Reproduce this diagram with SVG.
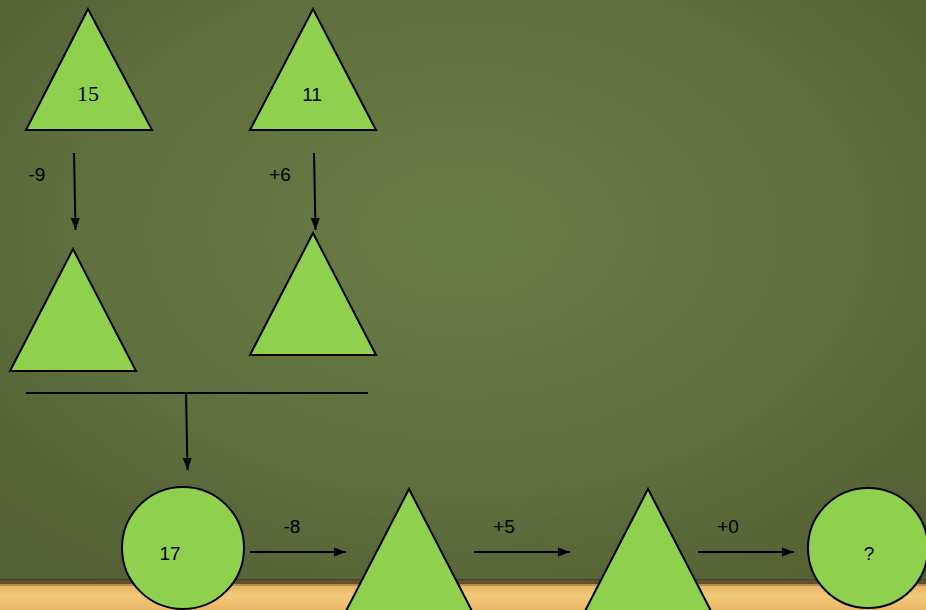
<svg xmlns="http://www.w3.org/2000/svg" width="926" height="610" viewBox="0 0 926 610">
<defs>
<radialGradient id="board" cx="0.5" cy="0.38" r="0.7">
<stop offset="0" stop-color="#6a7c46"/>
<stop offset="0.6" stop-color="#5f6f3d"/>
<stop offset="1" stop-color="#535f34"/>
</radialGradient>
<linearGradient id="wood" x1="0" y1="0" x2="0" y2="1">
<stop offset="0" stop-color="#e0a755"/>
<stop offset="0.5" stop-color="#f2c879"/>
<stop offset="1" stop-color="#eab867"/>
</linearGradient>
<marker id="ah" viewBox="0 0 12 10" refX="12" refY="5" markerWidth="12" markerHeight="10" markerUnits="userSpaceOnUse" orient="auto">
<path d="M0,0.5 L12,5 L0,9.5 Z" fill="#000"/>
</marker>
<style>
.shape{fill:#8fd14f;stroke:#000;stroke-width:2}
.lbl{font-family:"Liberation Sans",Arial,sans-serif;font-size:19px;fill:#000;text-anchor:middle}
.serif{font-family:"Liberation Serif","Times New Roman",serif;font-size:22px}
.conn{stroke:#000;stroke-width:2;fill:none}
</style>
</defs>
<rect x="0" y="0" width="926" height="610" fill="url(#board)"/>
<rect x="0" y="580" width="926" height="30" fill="url(#wood)"/>
<rect x="0" y="579" width="926" height="5" fill="#3b3c22" opacity="0.8"/>
<rect x="0" y="584" width="926" height="2" fill="#8a6a30" opacity="0.5"/>
<g id="n1"><polygon class="shape" points="88,9 152,130 26,130"/><text class="lbl serif" x="88" y="101">15</text></g>
<g id="n2"><polygon class="shape" points="313,9 376,130 250,130"/><text class="lbl" x="312" y="101">11</text></g>
<g id="n3"><polygon class="shape" points="73,249 136,371 10,371"/></g>
<g id="n4"><polygon class="shape" points="313,233 376,355 250,355"/></g>
<g id="n5"><circle class="shape" cx="183" cy="548" r="61"/><text class="lbl" x="170" y="560">17</text></g>
<g id="n6"><polygon class="shape" points="409,489 472,611 346,611"/></g>
<g id="n7"><polygon class="shape" points="648,489 711,611 585,611"/></g>
<g id="n8"><circle class="shape" cx="868" cy="548" r="60"/><text class="lbl" x="869" y="560">?</text></g>
<g id="connectors">
<line class="conn" x1="74" y1="153" x2="75.5" y2="230" marker-end="url(#ah)"/>
<line class="conn" x1="314" y1="153" x2="315.5" y2="230" marker-end="url(#ah)"/>
<line class="conn" x1="26" y1="393" x2="368" y2="393"/>
<line class="conn" x1="186" y1="393" x2="187.5" y2="470" marker-end="url(#ah)"/>
<line class="conn" x1="250" y1="552" x2="346" y2="552" marker-end="url(#ah)"/>
<line class="conn" x1="474" y1="552" x2="570" y2="552" marker-end="url(#ah)"/>
<line class="conn" x1="698" y1="552" x2="794" y2="552" marker-end="url(#ah)"/>
<text class="lbl" x="37" y="181">-9</text>
<text class="lbl" x="280" y="181">+6</text>
<text class="lbl" x="292" y="533">-8</text>
<text class="lbl" x="504" y="533">+5</text>
<text class="lbl" x="728" y="533">+0</text>
</g>
</svg>
